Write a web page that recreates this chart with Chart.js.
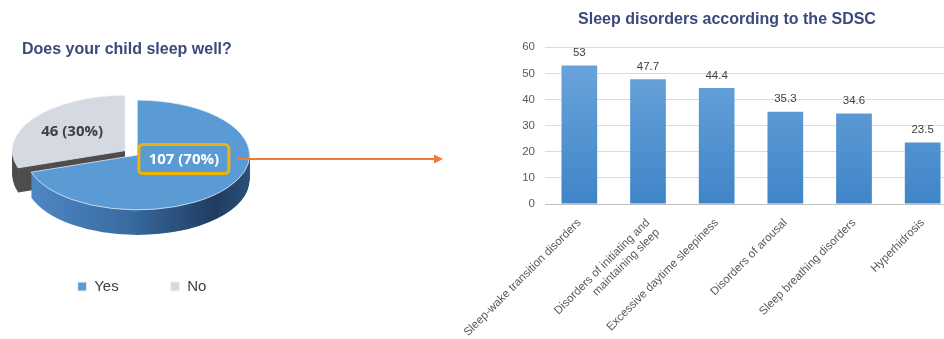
<!DOCTYPE html>
<html>
<head>
<meta charset="utf-8">
<script src="https://cdn.jsdelivr.net/npm/chart.js@4.4.1/dist/chart.umd.min.js"></script>
<style>
  html, body { margin: 0; padding: 0; background: #fff; overflow: hidden; }
  body { width: 944px; height: 339px; position: relative; }
  #pieChart { position: absolute; left: 0; top: 0; }
  #barChart { position: absolute; left: 440px; top: 0; }
</style>
</head>
<body>
<canvas id="pieChart" width="460" height="339"></canvas>
<canvas id="barChart" width="530" height="339"></canvas>
<script>
// Pie: does your child sleep well?
const pieLabels = ["Yes", "No"];
const pieValues = [107, 46];
const pieColors = ["#5b9bd5", "#d5d9e2"];

// Bars: sleep disorders according to the SDSC
const disorderLabels = [
  "Sleep-wake transition disorders",
  ["Disorders of initiating and", "maintaining sleep"],
  "Excessive daytime sleepiness",
  "Disorders of arousal",
  "Sleep breathing disorders",
  "Hyperhidrosis"
];
const disorderValues = [53, 47.7, 44.4, 35.3, 34.6, 23.5];
const yTicks = [0, 10, 20, 30, 40, 50, 60];

Chart.defaults.font.family = "'Liberation Sans', Arial, sans-serif";
Chart.defaults.color = "#595959";

// 3D look for the pie: squash it and stack darker copies under it
const tilt = 0.49;
const depth = 25;
const pieAt = { x: 137.5, y: 155 };
const sideColor = ["gradient", "#4e4e4e"];
const labelNudge = [[1, -12], [-7, -3]];

function sliceCenter(el) {
  const o = (el.options.offset || 0) / 4;
  const mid = (el.startAngle + el.endAngle) / 2;
  const fix = 1 - Math.sin(Math.min(Math.PI, el.endAngle - el.startAngle));
  const d = o * (1 + fix);
  return { x: el.x + Math.cos(mid) * d, y: el.y + Math.sin(mid) * d };
}

function applyTilt(ctx, c, dy) {
  ctx.translate(pieAt.x, pieAt.y + dy);
  ctx.scale(1, tilt);
  ctx.translate(-c.x, -c.y);
}

const pie3d = {
  id: "pie3d",
  beforeDatasetsDraw(chart) {
    const ctx = chart.ctx;
    const arcs = chart.getDatasetMeta(0).data;
    const c = { x: arcs[0].x, y: arcs[0].y };
    const r = arcs[0].outerRadius;
    [1, 0].forEach(i => {
      const el = arcs[i];
      const p = sliceCenter(el);
      for (let k = depth; k > 0; k--) {
        ctx.save();
        applyTilt(ctx, c, k);
        let fill = sideColor[i];
        if (fill === "gradient") {
          fill = ctx.createLinearGradient(c.x - r, 0, c.x + r, 0);
          fill.addColorStop(0, "#4f89c6");
          fill.addColorStop(0.45, "#3a6ca2");
          fill.addColorStop(0.85, "#1f3c5f");
          fill.addColorStop(1, "#2b5078");
        }
        ctx.beginPath();
        ctx.moveTo(p.x, p.y);
        ctx.arc(p.x, p.y, el.outerRadius, el.startAngle, el.endAngle);
        ctx.closePath();
        ctx.fillStyle = fill;
        ctx.fill();
        ctx.restore();
      }
    });
    ctx.save();
    applyTilt(ctx, c, 0);
  },
  afterDatasetsDraw(chart) {
    const ctx = chart.ctx;
    ctx.restore();
    const arcs = chart.getDatasetMeta(0).data;
    const c = { x: arcs[0].x, y: arcs[0].y };
    const total = pieValues.reduce((a, b) => a + b, 0);
    const spots = [];
    arcs.forEach((el, i) => {
      const p = sliceCenter(el);
      const mid = (el.startAngle + el.endAngle) / 2;
      const rr = el.outerRadius * 0.5;
      const ux = p.x + Math.cos(mid) * rr;
      const uy = p.y + Math.sin(mid) * rr;
      spots.push({
        x: pieAt.x + (ux - c.x) + labelNudge[i][0],
        y: pieAt.y + (uy - c.y) * tilt + labelNudge[i][1],
        text: pieValues[i] + " (" + Math.round(pieValues[i] / total * 100) + "%)"
      });
    });
    ctx.save();
    ctx.font = "bold 15px 'Open Sans', sans-serif";
    ctx.textAlign = "center";
    ctx.textBaseline = "middle";

    // Yes: white text in a yellow framed box, with the arrow to the bars
    const s = spots[0];
    const w = 90, h = 29;
    ctx.beginPath();
    ctx.roundRect(s.x - w / 2, s.y - h / 2, w, h, 4);
    ctx.fillStyle = pieColors[0];
    ctx.fill();
    ctx.lineWidth = 3;
    ctx.strokeStyle = "#efb302";
    ctx.stroke();
    ctx.fillStyle = "#ffffff";
    ctx.fillText(s.text, s.x, s.y + 1);

    const ay = s.y;
    const ax0 = s.x + w / 2 + 8, ax1 = 443;
    ctx.strokeStyle = "#ed7d31";
    ctx.lineWidth = 2;
    ctx.beginPath();
    ctx.moveTo(ax0, ay);
    ctx.lineTo(ax1 - 6, ay);
    ctx.stroke();
    ctx.fillStyle = "#ed7d31";
    ctx.beginPath();
    ctx.moveTo(ax1, ay);
    ctx.lineTo(ax1 - 9, ay - 4.5);
    ctx.lineTo(ax1 - 9, ay + 4.5);
    ctx.closePath();
    ctx.fill();

    // No: dark text on the slice
    ctx.fillStyle = "#404040";
    ctx.fillText(spots[1].text, spots[1].x, spots[1].y);
    ctx.restore();
  }
};

new Chart(document.getElementById("pieChart"), {
  type: "pie",
  data: {
    labels: pieLabels,
    datasets: [{
      data: pieValues,
      backgroundColor: pieColors,
      borderColor: "#eef3f9",
      borderWidth: 1,
      offset: [0, 61],
      radius: 112,
      clip: false
    }]
  },
  options: {
    responsive: false,
    animation: false,
    events: [],
    layout: { padding: { left: 22, right: 198, top: 0, bottom: 35 } },
    plugins: {
      title: {
        display: true,
        text: "Does your child sleep well?",
        align: "start",
        color: "#3b4a7d",
        font: { size: 16, weight: "bold" },
        padding: { top: 40, bottom: 10 }
      },
      legend: {
        position: "bottom",
        labels: {
          boxWidth: 9,
          boxHeight: 9,
          padding: 52,
          color: "#404040",
          font: { size: 15 }
        }
      },
      tooltip: { enabled: false }
    }
  },
  plugins: [pie3d]
});

const valueLabels = {
  id: "valueLabels",
  afterDatasetsDraw(chart) {
    const ctx = chart.ctx;
    ctx.save();
    ctx.font = "11.5px 'Liberation Sans', Arial, sans-serif";
    ctx.fillStyle = "#404040";
    ctx.textAlign = "center";
    ctx.textBaseline = "middle";
    chart.getDatasetMeta(0).data.forEach((bar, i) => {
      ctx.fillText(String(disorderValues[i]), bar.x, bar.y - 12.5);
    });
    ctx.restore();
  }
};

new Chart(document.getElementById("barChart"), {
  type: "bar",
  data: {
    labels: disorderLabels,
    datasets: [{
      data: disorderValues,
      backgroundColor: (c) => {
        const area = c.chart.chartArea;
        if (!area) return "#5b9bd5";
        const g = c.chart.ctx.createLinearGradient(0, area.top, 0, area.bottom);
        g.addColorStop(0, "#6fa7dd");
        g.addColorStop(1, "#3f85c8");
        return g;
      },
      barPercentage: 0.52,
      categoryPercentage: 1
    }]
  },
  options: {
    responsive: false,
    animation: false,
    events: [],
    layout: { padding: { left: 57, right: 13, top: 0, bottom: 0 } },
    plugins: {
      title: {
        display: true,
        text: "Sleep disorders according to the SDSC",
        color: "#3b4a7d",
        font: { size: 16, weight: "bold" },
        padding: { top: 10, bottom: 18 }
      },
      legend: { display: false },
      tooltip: { enabled: false }
    },
    scales: {
      y: {
        min: yTicks[0],
        max: yTicks[yTicks.length - 1],
        afterBuildTicks: (scale) => { scale.ticks = yTicks.map(v => ({ value: v })); },
        afterFit: (scale) => { scale.width = 48; },
        border: { display: false },
        grid: { color: "#dcdcdc", drawTicks: false },
        ticks: { padding: 10, font: { size: 11.5 }, color: "#595959" }
      },
      x: {
        afterFit: (scale) => {
          scale.height = 135;
          scale.paddingLeft = 0;
          scale.paddingRight = 0;
        },
        border: { color: "#bfbfbf" },
        grid: { display: false },
        ticks: {
          autoSkip: false,
          minRotation: 45,
          maxRotation: 45,
          padding: 4,
          font: { size: 11.5 },
          color: "#595959"
        }
      }
    }
  },
  plugins: [valueLabels]
});
</script>
</body>
</html>
